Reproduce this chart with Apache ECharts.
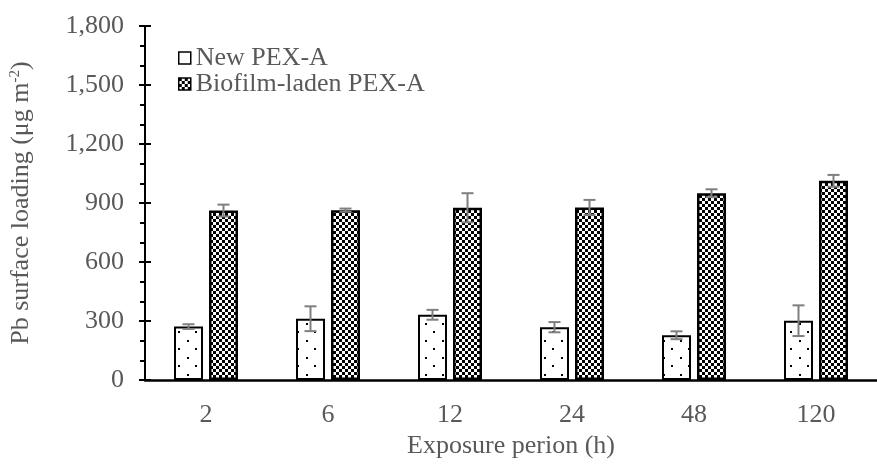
<!DOCTYPE html>
<html><head><meta charset="utf-8">
<script src="https://cdn.jsdelivr.net/npm/echarts@6/dist/echarts.min.js"></script>
<style>html,body{margin:0;padding:0;background:#fff}#c{width:877px;height:464px}</style>
</head><body><div id="c"></div>
<script>
const categories = ['2', '6', '12', '24', '48', '120'];
const newPex = [272, 312, 332, 269, 228, 302];
const newPexErr = [12, 63, 25, 26, 20, 78];
const biofilmPex = [862, 864, 876, 878, 950, 1013];
const biofilmPexErr = [30, 8, 74, 38, 20, 30];
const yTicks = [0, 300, 600, 900, 1200, 1500, 1800];

const FONT = '"Liberation Serif", "Times New Roman", serif';
const GREY = '#595959';
const FS = 26;
const BAR_W = 29, BAR_GAP = 6;

function checker() {
  const c = document.createElement('canvas'); c.width = 6; c.height = 6;
  const g = c.getContext('2d');
  g.fillStyle = '#fff'; g.fillRect(0, 0, 6, 6);
  g.fillStyle = '#000'; g.fillRect(0, 0, 3, 3); g.fillRect(3, 3, 3, 3);
  return c;
}
function dots() {
  const c = document.createElement('canvas'); c.width = 17; c.height = 17;
  const g = c.getContext('2d');
  g.fillStyle = '#fff'; g.fillRect(0, 0, 17, 17);
  g.fillStyle = '#000'; g.fillRect(0, 0, 2, 2); g.fillRect(8, 8, 2, 2);
  return c;
}
const dotPat = { image: dots(), repeat: 'repeat' };
const chkPat = { image: checker(), repeat: 'repeat' };

function errData(vals, errs) {
  return vals.map((v, i) => [i, v - errs[i], v + errs[i]]);
}
function errRender(offset) {
  return function (params, api) {
    const x = api.value(0);
    const lo = api.coord([x, api.value(1)]);
    const hi = api.coord([x, api.value(2)]);
    const cx = lo[0] + offset;
    const cap = 6;
    const style = { stroke: '#7f7f7f', lineWidth: 2 };
    return {
      type: 'group',
      children: [
        { type: 'line', shape: { x1: cx, y1: lo[1], x2: cx, y2: hi[1] }, style },
        { type: 'line', shape: { x1: cx - cap, y1: lo[1], x2: cx + cap, y2: lo[1] }, style },
        { type: 'line', shape: { x1: cx - cap, y1: hi[1], x2: cx + cap, y2: hi[1] }, style }
      ]
    };
  };
}
const off = (BAR_W + BAR_GAP) / 2;

const chart = echarts.init(document.getElementById('c'), null, { renderer: 'canvas' });
chart.setOption({
  animation: false,
  backgroundColor: '#fff',
  textStyle: { fontFamily: FONT },
  grid: { left: 139, right: -8, top: 26, bottom: 83, containLabel: false },
  legend: {
    orient: 'vertical', left: 173, top: 40, itemGap: 0,
    itemWidth: 12, itemHeight: 12,
    textStyle: { fontFamily: FONT, fontSize: FS, color: GREY, padding: [0, 0, 0, 0] },
    data: [
      { name: 'New PEX-A', icon: 'rect', itemStyle: { color: '#fff', borderColor: '#000', borderWidth: 1.5 } },
      { name: 'Biofilm-laden PEX-A', icon: 'rect', itemStyle: { color: chkPat, borderColor: '#000', borderWidth: 1.5 } }
    ]
  },
  xAxis: {
    type: 'category', data: categories,
    name: 'Exposure perion (h)', nameLocation: 'middle', nameGap: 49,
    nameTextStyle: { fontFamily: FONT, fontSize: FS, color: GREY },
    axisLine: { lineStyle: { color: '#000', width: 2.5 } },
    axisTick: { show: false },
    axisLabel: { fontFamily: FONT, fontSize: FS, color: GREY, margin: 22 }
  },
  yAxis: [{
    type: 'value', min: 0, max: 1800, interval: 300,
    name: 'Pb surface loading (μg m{sup|-2})', nameLocation: 'middle', nameGap: 110,
    nameTextStyle: { fontFamily: FONT, fontSize: FS, color: GREY,
      rich: { sup: { fontFamily: FONT, fontSize: 15, color: GREY, verticalAlign: 'top', padding: [0, 0, 12, 0] } } },
    splitLine: { show: false },
    axisLine: { show: true, lineStyle: { color: '#000', width: 2 } },
    axisTick: { show: true, length: 6, lineStyle: { color: '#000', width: 2 } },
    minorTick: { show: true, splitNumber: 3, length: 5, lineStyle: { color: '#000', width: 2 } },
    axisLabel: { fontFamily: FONT, fontSize: FS, color: GREY, margin: 21,
      formatter: v => yTicks.includes(v) ? v.toLocaleString('en-US') : '' }
  }, {
    type: 'value', min: 0, max: 1800, interval: 300, position: 'left',
    splitLine: { show: false },
    axisLine: { show: false },
    axisTick: { show: true, inside: true, length: 6, lineStyle: { color: '#000', width: 2 } },
    axisLabel: { show: false }
  }],
  series: [
    {
      name: 'New PEX-A', type: 'bar', data: newPex, barWidth: BAR_W, barGap: (BAR_GAP / BAR_W * 100) + '%',
      itemStyle: { color: dotPat, borderColor: '#000', borderWidth: 2 }
    },
    {
      name: 'Biofilm-laden PEX-A', type: 'bar', data: biofilmPex, barWidth: BAR_W,
      itemStyle: { color: chkPat, borderColor: '#000', borderWidth: 2.5 }
    },
    { type: 'custom', data: errData(newPex, newPexErr), renderItem: errRender(-off), z: 5, silent: true },
    { type: 'custom', data: errData(biofilmPex, biofilmPexErr), renderItem: errRender(off), z: 5, silent: true }
  ]
});
</script></body></html>
